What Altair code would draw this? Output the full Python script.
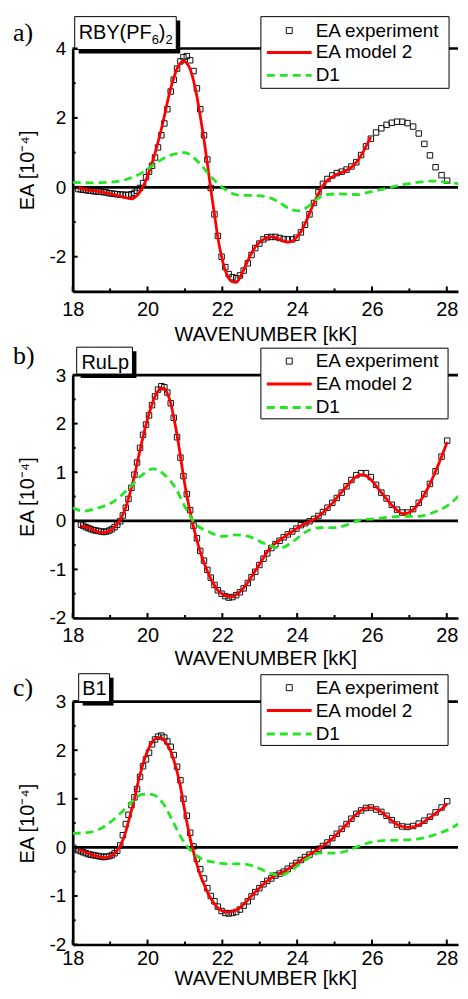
import altair as alt
import pandas as pd

FONT = "Liberation Sans"
SERIF = "Liberation Serif"
INK = "#000000"
RED = "#ff0000"
GREEN = "#22e622"

X_TITLE = "WAVENUMBER [kK]"
Y_TITLE = "EA [10⁻⁴]"
X_LABELS = [18, 20, 22, 24, 26, 28]
X_MAJOR = [18, 20, 22, 24, 26, 28]
X_MINOR = [19, 21, 23, 25, 27]
SERIES = ["EA experiment", "EA model 2", "D1"]

# wavenumber grid of the measured points (kK)
NU = [18.02, 18.08, 18.15, 18.22, 18.28, 18.35, 18.42, 18.48, 18.55, 18.62,
      18.69, 18.76, 18.83, 18.90, 18.98, 19.05, 19.12, 19.19, 19.27, 19.34,
      19.42, 19.49, 19.57, 19.65, 19.72, 19.80, 19.88, 19.96, 20.04, 20.12,
      20.20, 20.28, 20.37, 20.45, 20.53, 20.62, 20.70, 20.79, 20.88, 20.96,
      21.05, 21.14, 21.23, 21.32, 21.41, 21.51, 21.60, 21.69, 21.79, 21.88,
      21.98, 22.08, 22.17, 22.27, 22.37, 22.47, 22.57, 22.68, 22.78, 22.88,
      22.99, 23.10, 23.20, 23.31, 23.42, 23.53, 23.64, 23.75, 23.87, 23.98,
      24.10, 24.21, 24.33, 24.45, 24.57, 24.69, 24.81, 24.94, 25.06, 25.19,
      25.32, 25.45, 25.58, 25.71, 25.84, 25.97, 26.11, 26.25, 26.39, 26.53,
      26.67, 26.81, 26.95, 27.10, 27.25, 27.40, 27.55, 27.70, 27.86, 28.01]

# ---- panel a: RBY(PF6)2 ----
A_EXP = [-0.05, -0.06, -0.07, -0.08, -0.09, -0.10, -0.11, -0.12,
         -0.12, -0.13, -0.14, -0.15, -0.17, -0.18, -0.19, -0.20, -0.21, -0.21,
         -0.22, -0.22, -0.20, -0.16, -0.10, -0.02, 0.12, 0.29, 0.45, 0.62,
         0.86, 1.15, 1.50, 1.84, 2.25, 2.76, 3.10, 3.42, 3.63, 3.75,
         3.78, 3.66, 3.35, 2.85, 2.25, 1.50, 0.80, -0.02, -0.78, -1.40,
         -2.00, -2.30, -2.50, -2.59, -2.62, -2.54, -2.40, -2.19, -1.95, -1.75,
         -1.62, -1.50, -1.44, -1.43, -1.43, -1.46, -1.49, -1.50, -1.50, -1.45,
         -1.30, -1.08, -0.78, -0.45, -0.14, 0.10, 0.24, 0.34, 0.41, 0.45,
         0.51, 0.60, 0.72, 0.93, 1.18, 1.40, 1.58, 1.70, 1.80, 1.86,
         1.89, 1.89, 1.85, 1.75, 1.55, 1.25, 0.92, 0.58, 0.35, 0.19]
A_MOD_START = 2
A_MOD = [-0.02, -0.03, -0.05, -0.06, -0.07, -0.09, -0.10, -0.11,
         -0.12, -0.13, -0.15, -0.16, -0.18, -0.20, -0.22, -0.24, -0.26, -0.28,
         -0.30, -0.32, -0.33, -0.30, -0.24, -0.13, 0.02, 0.22, 0.45, 0.70,
         0.98, 1.30, 1.68, 2.05, 2.45, 2.85, 3.15, 3.42, 3.58, 3.64,
         3.58, 3.40, 3.07, 2.62, 2.05, 1.37, 0.68, -0.05, -0.78, -1.45,
         -2.00, -2.40, -2.62, -2.72, -2.74, -2.60, -2.38, -2.12, -1.90, -1.72,
         -1.59, -1.50, -1.45, -1.43, -1.45, -1.50, -1.55, -1.58, -1.55, -1.45,
         -1.28, -1.05, -0.75, -0.45, -0.18, 0.05, 0.20, 0.30, 0.37, 0.43,
         0.49, 0.58, 0.72, 0.92, 1.18, 1.45]
A_D1_X = [18.0, 18.5, 19.0, 19.3, 19.6, 19.9, 20.1, 20.3, 20.6, 20.8, 21.0,
          21.2, 21.45, 21.7, 22.0, 22.25, 22.5, 22.9, 23.2, 23.5, 23.8, 24.05,
          24.3, 24.55, 24.8, 25.1, 25.6, 25.95, 26.3, 26.75, 27.2, 27.6, 28.05, 28.43]
A_D1_Y = [0.14, 0.13, 0.15, 0.19, 0.29, 0.45, 0.60, 0.75, 0.92, 0.98, 1.00,
          0.88, 0.62, 0.30, 0.00, -0.17, -0.23, -0.24, -0.28, -0.42, -0.62, -0.68,
          -0.55, -0.32, -0.21, -0.19, -0.21, -0.13, -0.05, 0.06, 0.14, 0.18, 0.14, 0.09]

# ---- panel b: RuLp ----
B_EXP = [-0.08, -0.10, -0.13, -0.15, -0.17, -0.19, -0.20,
         -0.21, -0.22, -0.23, -0.22, -0.20, -0.17, -0.13, -0.08, -0.01, 0.11,
         0.27, 0.45, 0.68, 0.95, 1.20, 1.50, 1.77, 1.98, 2.17, 2.38,
         2.56, 2.70, 2.77, 2.75, 2.64, 2.42, 2.12, 1.72, 1.30, 0.92,
         0.55, 0.22, -0.10, -0.36, -0.62, -0.82, -1.01, -1.17, -1.32, -1.43,
         -1.50, -1.55, -1.58, -1.57, -1.53, -1.47, -1.39, -1.28, -1.16, -1.05,
         -0.91, -0.78, -0.67, -0.56, -0.48, -0.41, -0.34, -0.28, -0.22, -0.16,
         -0.09, -0.05, -0.01, 0.04, 0.10, 0.18, 0.27, 0.37, 0.47, 0.58,
         0.71, 0.84, 0.94, 0.98, 0.98, 0.90, 0.74, 0.58, 0.46, 0.33,
         0.23, 0.17, 0.17, 0.24, 0.37, 0.55, 0.76, 1.02, 1.32, 1.65]
B_MOD_START = 3
B_MOD = [-0.10, -0.12, -0.13, -0.14, -0.16, -0.19, -0.21,
         -0.23, -0.24, -0.24, -0.23, -0.21, -0.17, -0.12, -0.06, 0.02, 0.13,
         0.28, 0.46, 0.68, 0.92, 1.18, 1.46, 1.73, 1.98, 2.20, 2.40,
         2.56, 2.67, 2.73, 2.72, 2.62, 2.42, 2.13, 1.76, 1.33, 0.92,
         0.52, 0.18, -0.13, -0.40, -0.64, -0.86, -1.04, -1.19, -1.33, -1.43,
         -1.50, -1.54, -1.56, -1.56, -1.52, -1.46, -1.38, -1.27, -1.15, -1.03,
         -0.90, -0.76, -0.64, -0.54, -0.46, -0.40, -0.34, -0.28, -0.22, -0.16,
         -0.10, -0.06, -0.02, 0.03, 0.09, 0.17, 0.26, 0.36, 0.47, 0.59,
         0.71, 0.82, 0.91, 0.95, 0.93, 0.85, 0.72, 0.58, 0.45, 0.32,
         0.22, 0.15, 0.16, 0.23, 0.36, 0.54, 0.76, 1.02, 1.32, 1.62]
B_D1_X = [18.0, 18.3, 18.65, 19.1, 19.5, 19.85, 20.15, 20.45, 20.75, 21.0,
          21.27, 21.63, 22.0, 22.35, 22.7, 23.1, 23.55, 23.9, 24.25, 24.6,
          25.0, 25.35, 25.7, 26.05, 26.4, 26.75, 27.2, 27.6, 28.05, 28.43]
B_D1_Y = [0.27, 0.20, 0.26, 0.40, 0.67, 0.94, 1.07, 0.95, 0.67, 0.29,
          -0.05, -0.22, -0.32, -0.29, -0.32, -0.46, -0.56, -0.42, -0.22, -0.14,
          -0.14, -0.08, 0.02, 0.04, 0.07, 0.09, 0.09, 0.16, 0.33, 0.60]

# ---- panel c: B1 ----
C_EXP = [-0.01, -0.04, -0.06, -0.08, -0.10, -0.12, -0.14, -0.15, -0.16, -0.17,
         -0.18, -0.19, -0.20, -0.19, -0.18, -0.16, -0.12, -0.07, 0.04, 0.25,
         0.48, 0.67, 0.87, 1.03, 1.20, 1.45, 1.67, 1.81, 1.95, 2.12,
         2.22, 2.28, 2.30, 2.26, 2.18, 2.07, 1.90, 1.66, 1.38, 1.00,
         0.65, 0.30, 0.02, -0.24, -0.45, -0.64, -0.84, -1.00, -1.11, -1.22,
         -1.31, -1.35, -1.36, -1.35, -1.33, -1.28, -1.20, -1.11, -1.01, -0.92,
         -0.84, -0.76, -0.69, -0.64, -0.58, -0.54, -0.50, -0.44, -0.38, -0.32,
         -0.26, -0.20, -0.15, -0.08, -0.03, 0.03, 0.10, 0.19, 0.28, 0.38,
         0.48, 0.59, 0.69, 0.76, 0.81, 0.82, 0.78, 0.73, 0.65, 0.56,
         0.47, 0.43, 0.42, 0.44, 0.49, 0.55, 0.63, 0.72, 0.82, 0.95]
C_MOD_START = 2
C_MOD = [-0.05, -0.06, -0.08, -0.10, -0.12, -0.14, -0.16, -0.18,
         -0.19, -0.20, -0.21, -0.21, -0.19, -0.16, -0.12, -0.06, 0.03, 0.15,
         0.33, 0.53, 0.76, 1.00, 1.25, 1.50, 1.72, 1.90, 2.05, 2.16,
         2.23, 2.26, 2.25, 2.20, 2.11, 1.98, 1.80, 1.56, 1.25, 0.90,
         0.52, 0.18, -0.10, -0.35, -0.57, -0.76, -0.92, -1.05, -1.16, -1.25,
         -1.30, -1.33, -1.33, -1.32, -1.29, -1.24, -1.17, -1.09, -1.00, -0.92,
         -0.84, -0.76, -0.69, -0.63, -0.58, -0.54, -0.50, -0.45, -0.39, -0.33,
         -0.27, -0.21, -0.15, -0.09, -0.03, 0.03, 0.10, 0.18, 0.27, 0.37,
         0.47, 0.58, 0.68, 0.76, 0.81, 0.82, 0.79, 0.73, 0.64, 0.55,
         0.47, 0.43, 0.41, 0.42, 0.46, 0.53, 0.61, 0.70, 0.79, 0.90]
C_D1_X = [18.0, 18.45, 18.8, 19.25, 19.6, 19.85, 20.1, 20.4, 20.65, 20.9, 21.2,
          21.45, 21.8, 22.15, 22.5, 22.85, 23.2, 23.55, 23.9, 24.25, 24.6, 25.0,
          25.3, 25.6, 25.85, 26.3, 26.75, 27.2, 27.6, 28.05, 28.43]
C_D1_Y = [0.29, 0.31, 0.41, 0.68, 0.95, 1.09, 1.09, 0.92, 0.58, 0.20, -0.10,
          -0.24, -0.31, -0.34, -0.34, -0.39, -0.51, -0.58, -0.44, -0.24, -0.12, -0.12,
          -0.08, 0.01, 0.08, 0.14, 0.15, 0.17, 0.24, 0.37, 0.54]

W, H = 387, 244
XDOM = [18, 28.3]
ONE = pd.DataFrame({"k": [0]})


def panel(letter, title_parts, ydom, ylabels, ymajor, yminor,
          exp, mod, mod_start, d1x, d1y, title_box, legend_box, legend_y, letter_y,
          xtitle_y, xlab_pad):
    xs = alt.Scale(domain=XDOM, nice=False, zero=False)
    ys = alt.Scale(domain=ydom, nice=False, zero=False)
    xaxis = alt.Axis(values=X_LABELS, labelExpr="'' + datum.value", title=X_TITLE,
                     ticks=False, grid=False, domainColor=INK, domainWidth=2.7,
                     labelFont=FONT, labelFontSize=20, labelColor=INK, labelPadding=xlab_pad,
                     labelFlush=False, labelOverlap=False, titleFont=FONT,
                     titleFontSize=20, titleFontWeight="normal", titleColor=INK,
                     titleBaseline="alphabetic", titleY=xtitle_y)
    yaxis = alt.Axis(values=ylabels, labelExpr="'' + datum.value", title=Y_TITLE,
                     ticks=False, grid=False, domainColor=INK, domainWidth=2.7,
                     labelFont=FONT, labelFontSize=19, labelColor=INK, labelPadding=7,
                     labelFlush=False, labelOverlap=False, titleFont=FONT,
                     titleFontSize=20, titleFontWeight="normal", titleColor=INK,
                     titleX=-45, titleY=H / 2, titleAngle=270, titleAlign="center",
                     titleBaseline="middle")
    X = lambda f: alt.X(f, scale=xs, axis=xaxis)
    Y = lambda f: alt.Y(f, scale=ys, axis=yaxis)

    lx = 208
    def leg(i, **kw):
        return alt.Legend(orient="none", legendX=lx, legendY=legend_y[i], title=None,
                          padding=0, labelOffset=17, labelFont=FONT, labelFontSize=19,
                          labelColor=INK, **kw)

    rules = alt.Chart(pd.DataFrame({"y": [0, ydom[1]]})).mark_rule(
        color=INK, strokeWidth=2.7).encode(y=Y("y:Q"))

    def rect(box, dx=0, dy=0, **style):
        return alt.Chart(ONE).mark_rect(**style).encode(
            x=alt.value(box[0] + dx), x2=alt.value(box[2] + dx),
            y=alt.value(box[1] + dy), y2=alt.value(box[3] + dy))

    shadow = rect(title_box, 4, 4, color=INK)
    tbox = rect(title_box, fill="white", stroke=INK, strokeWidth=1)
    lbox = rect(legend_box, fill="white", stroke=INK, strokeWidth=1)

    n = len(exp)
    dfe = pd.DataFrame({"x": NU[len(NU) - n:], "y": exp, "s": SERIES[0]})
    pts = alt.Chart(dfe).mark_point(filled=False, color="#111111", size=30,
                                    strokeWidth=1, opacity=1, clip=True).encode(
        x=X("x:Q"), y=Y("y:Q"),
        shape=alt.Shape("s:N", scale=alt.Scale(domain=[SERIES[0]], range=["square"]),
                        legend=leg(0, symbolSize=36, symbolStrokeColor="#111111",
                                   symbolFillColor="white", symbolStrokeWidth=1)))

    mx = NU[mod_start:mod_start + len(mod)]
    dfm = pd.DataFrame({"x": mx, "y": mod[:len(mx)], "s2": SERIES[1]})
    model = alt.Chart(dfm).mark_line(strokeWidth=2.8, interpolate="monotone",
                                     clip=True).encode(
        x=X("x:Q"), y=Y("y:Q"),
        color=alt.Color("s2:N", scale=alt.Scale(domain=[SERIES[1]], range=[RED]),
                        legend=leg(1, symbolType="M-4.5,0H4.5", symbolSize=100,
                                   symbolStrokeWidth=3, symbolStrokeColor=RED)))

    dfd = pd.DataFrame({"x": d1x, "y": d1y, "s3": SERIES[2]})
    d1 = alt.Chart(dfd).mark_line(strokeWidth=2.8, color=GREEN, interpolate="monotone",
                                  clip=True).encode(
        x=X("x:Q"), y=Y("y:Q"),
        strokeDash=alt.StrokeDash("s3:N", scale=alt.Scale(domain=[SERIES[2]], range=[[8, 5]]),
                                  legend=leg(2, symbolType="M-4.5,0H4.5", symbolSize=100,
                                             symbolStrokeWidth=3, symbolStrokeColor=GREEN)))

    xt1 = alt.Chart(pd.DataFrame({"x": X_MAJOR})).mark_rule(color=INK, strokeWidth=2).encode(
        x=X("x:Q"), y=alt.value(H), y2=alt.value(H - 5))
    xt2 = alt.Chart(pd.DataFrame({"x": X_MINOR})).mark_rule(color=INK, strokeWidth=2).encode(
        x=X("x:Q"), y=alt.value(H), y2=alt.value(H - 3))
    yt1 = alt.Chart(pd.DataFrame({"y": ymajor})).mark_rule(color=INK, strokeWidth=2).encode(
        y=Y("y:Q"), x=alt.value(0), x2=alt.value(5))
    yt2 = alt.Chart(pd.DataFrame({"y": yminor})).mark_rule(color=INK, strokeWidth=2).encode(
        y=Y("y:Q"), x=alt.value(0), x2=alt.value(3))

    texts = []
    for txt, size, tx, ty in title_parts:
        texts.append(alt.Chart(pd.DataFrame({"t": [txt]})).mark_text(
            align="left", baseline="alphabetic", font=FONT, fontSize=size, color=INK).encode(
            text="t:N", x=alt.value(tx), y=alt.value(ty)))
    texts.append(alt.Chart(pd.DataFrame({"t": [letter]})).mark_text(
        align="left", baseline="alphabetic", font=SERIF, fontSize=26, color=INK).encode(
        text="t:N", x=alt.value(-60), y=alt.value(letter_y)))

    return alt.layer(rules, shadow, tbox, lbox, pts, model, d1, xt1, xt2, yt1, yt2,
                     *texts).properties(width=W, height=H)


pa = panel("a)", [("RBY(PF", 20, 6, -10), ("6", 13, 79.3, -4.5), (")", 20, 86.5, -10),
                  ("2", 13, 93.2, -4.5)],
           [-3, 4], [-2, 0, 2, 4], [-2, 0, 2, 4], [-3, -1, 1, 3],
           A_EXP, A_MOD, A_MOD_START, A_D1_X, A_D1_Y,
           (2, -32, 104, 1), (189, -32, 378, 40), [-27.5, -5.5, 17.5], -8, 49, 8)
pb = panel("b)", [("RuLp", 20, 8.7, -6.5)],
           [-2, 3], [-2, -1, 0, 1, 2, 3], [-2, -1, 0, 1, 2, 3], [-1.5, -0.5, 0.5, 1.5, 2.5],
           B_EXP, B_MOD, B_MOD_START, B_D1_X, B_D1_Y,
           (4, -28, 60, -1), (189, -27, 377, 44), [-23.5, -0.5, 23], -11, 47, 8)
pc = panel("c)", [("B1", 20, 9.5, -6.5)],
           [-2, 3], [-2, -1, 0, 1, 2, 3], [-2, -1, 0, 1, 2, 3], [-1.5, -0.5, 0.5, 1.5, 2.5],
           C_EXP, C_MOD, C_MOD_START, C_D1_X, C_D1_Y,
           (6, -28, 37, 0), (189, -27, 377, 44), [-23.5, -0.5, 23], -6, 40.5, 4)

chart = alt.vconcat(pa, pb, pc, spacing=84, bounds="flush").resolve_scale(
    x="independent", y="independent", color="independent", shape="independent",
    strokeDash="independent").resolve_legend(
    color="independent", shape="independent", strokeDash="independent").properties(
    padding={"left": 5, "top": 5.5, "right": 0, "bottom": 0}).configure_view(strokeWidth=0)

chart.save("out.html", embed_options={"renderer": "svg", "actions": False})
